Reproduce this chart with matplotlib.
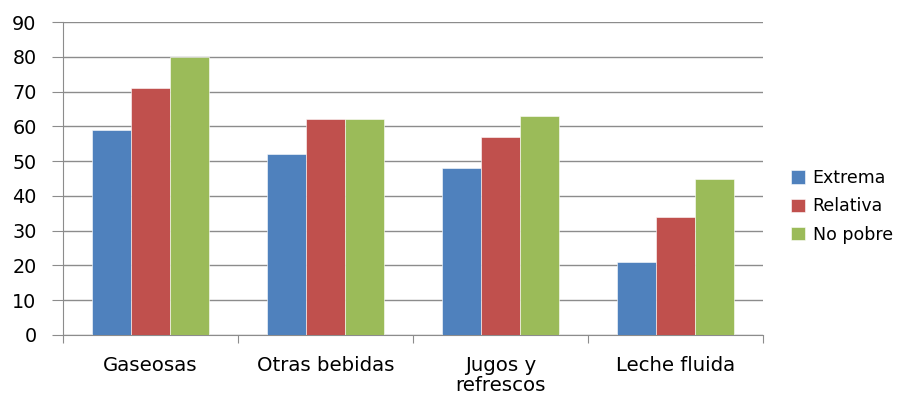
import matplotlib
matplotlib.use("Agg")
import matplotlib.pyplot as plt
import numpy as np

categories = ["Gaseosas", "Otras bebidas", "Jugos y\nrefrescos", "Leche fluida"]
series_names = ["Extrema", "Relativa", "No pobre"]
extrema = [59, 52, 48, 21]
relativa = [71, 62, 57, 34]
no_pobre = [80, 62, 63, 45]
colors = ["#4F81BD", "#C0504D", "#9BBB59"]
y_ticks = list(range(0, 91, 10))

plt.rcParams['font.family'] = ['DejaVu Sans']

fig = plt.figure(figsize=(9.04, 3.97), dpi=100)
ax = fig.add_axes([63/904, 1-335/397, 700/904, 313/397])

x = np.arange(len(categories))
w = 1/4.5
for i, (vals, name) in enumerate(zip([extrema, relativa, no_pobre], series_names)):
    ax.bar(x + (i-1)*w, vals, width=w, color=colors[i], label=name, zorder=3,
           edgecolor='white', linewidth=0.4)

ax.set_xlim(-0.5, len(categories)-0.5)
ax.set_ylim(0, 90)
ax.set_yticks(y_ticks)
ax.yaxis.grid(True, color='#8C8C8C', linewidth=1.0, zorder=0)
ax.set_axisbelow(True)
for s in ['top', 'right']:
    ax.spines[s].set_visible(False)
ax.spines['left'].set_color('#8C8C8C')
ax.spines['bottom'].set_color('#8C8C8C')
ax.tick_params(axis='y', length=8, color='#8C8C8C', labelsize=13.8, pad=11)
ax.set_xticks(np.arange(-0.5, len(categories), 1.0))
ax.set_xticklabels([])
ax.tick_params(axis='x', length=6, color='#8C8C8C')
ax.set_xticks(x, minor=True)
ax.set_xticklabels(categories, minor=True, fontsize=14.2, linespacing=1.05, va='top')
ax.tick_params(axis='x', which='minor', length=0, pad=15)

leg = fig.legend(loc='upper left', bbox_to_anchor=(784/904, 1-162/397), frameon=False,
                 fontsize=12.5, handlelength=0.8, handleheight=0.8, handletextpad=0.45,
                 labelspacing=0.6, borderaxespad=0)

fig.savefig("out.png", dpi=100)
